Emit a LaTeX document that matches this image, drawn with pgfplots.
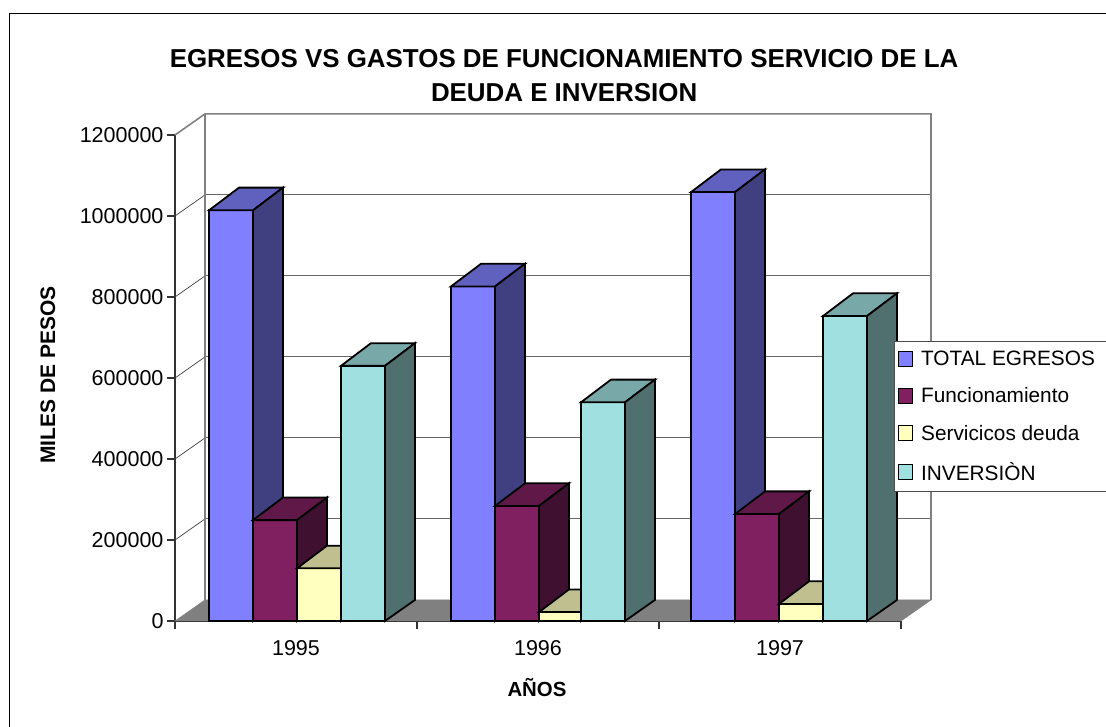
\documentclass[border=0pt]{standalone}
\usepackage{pgfplots}
\pgfplotsset{compat=1.18}
\usepackage{fontspec}
\setmainfont{Liberation Sans}
\definecolor{af}{HTML}{8080FF}\definecolor{at}{HTML}{6060BF}\definecolor{as}{HTML}{404080}
\definecolor{bf}{HTML}{802060}\definecolor{bt}{HTML}{601848}\definecolor{bs}{HTML}{401030}
\definecolor{cf}{HTML}{FFFFC0}\definecolor{ct}{HTML}{BFBF90}\definecolor{cs}{HTML}{808060}
\definecolor{df}{HTML}{A0E0E0}\definecolor{dt}{HTML}{78A8A8}\definecolor{ds}{HTML}{507070}
\definecolor{wall}{HTML}{808080}
% one 3-D bar: left x, right x, value, colour prefix
\newcommand{\threedbar}[4]{%
  \edef\tmpbar{%
  \noexpand\addplot[forget plot,draw=black,line width=1.8pt,fill=#4f] coordinates {(#1,0) (#2,0) (#2,#3) (#1,#3)} --cycle;
  \noexpand\addplot[forget plot,draw=black,line width=1.8pt,fill=#4t] coordinates {(#1,#3) (#2,#3) (\the\numexpr#2+30\relax,\the\numexpr#3+56000\relax) (\the\numexpr#1+30\relax,\the\numexpr#3+56000\relax)} --cycle;
  \noexpand\addplot[forget plot,draw=black,line width=1.8pt,fill=#4s] coordinates {(#2,0) (\the\numexpr#2+30\relax,52000) (\the\numexpr#2+30\relax,\the\numexpr#3+56000\relax) (#2,#3)} --cycle;
  }\tmpbar}
\newcommand{\gridrow}[1]{%
  \edef\tmpgrid{%
  \noexpand\addplot[forget plot,draw=black!75,line width=0.7pt] coordinates {(175,#1) (205,\the\numexpr#1+52000\relax)};
  \noexpand\addplot[forget plot,draw=black!60,line width=1pt] coordinates {(205,\the\numexpr#1+52000\relax) (931,\the\numexpr#1+52000\relax)};
  }\tmpgrid}
\begin{document}
\begin{tikzpicture}[x=1pt,y=1pt]
\useasboundingbox (0,0) rectangle (1106,727);
\draw[black,line width=1.5pt] (9.5,-2) -- (9.5,713.5) -- (1110,713.5);
\begin{axis}[
  at={(175pt,106pt)},anchor=origin,
  scale only axis,width=726pt,height=486pt,
  xmin=175,xmax=901,ymin=0,ymax=1200000,clip=false,
  axis lines=left,axis line style={-,black!80,line width=1.2pt},
  tick align=outside,major tick length=8pt,tick style={black!80,line width=1.2pt},
  xtick={175,417,659,901},xticklabels={},
  extra x ticks={296,538,780},extra x tick labels={1995,1996,1997},
  extra x tick style={major tick length=0pt,tick style={draw=none}},
  ytick={0,200000,400000,600000,800000,1000000,1200000},
  yticklabels={0,200000,400000,600000,800000,1000000,1200000},
  scaled y ticks=false,
  tick label style={font=\fontsize{21.5}{24}\selectfont,black},
  xticklabel style={yshift=-16pt},
  title={EGRESOS VS GASTOS DE FUNCIONAMIENTO SERVICIO DE LA\\DEUDA E INVERSION},
  title style={at={(0.536,1.109)},anchor=center,align=center,font=\fontsize{25.9}{34}\selectfont\bfseries},
  xlabel={AÑOS},
  xlabel style={at={(0.4986,-0.136)},anchor=center,font=\fontsize{20.4}{24}\selectfont\bfseries},
  legend image code/.code={\draw[#1] (3pt,-7pt) rectangle (17pt,8pt);\path (23pt,0pt);},
  legend cell align=left,
  legend style={at={(axis cs:893.5,691000)},anchor=north west,draw=black!70,line width=0.9pt,fill=white,
    font=\fontsize{20.8}{24}\selectfont,row sep=16.8pt,inner xsep=4pt,inner ysep=7.5pt},
]
% walls
\gridrow{200000}\gridrow{400000}\gridrow{600000}\gridrow{800000}\gridrow{1000000}
\addplot[forget plot,draw=wall,line width=1.6pt] coordinates {(175,1200000) (205,1252000) (931,1252000) (931,52000)};
\addplot[forget plot,draw=wall,line width=1.6pt] coordinates {(205,1252000) (205,52000)};
\addplot[forget plot,draw=wall,fill=wall,line width=0.5pt] coordinates {(175,0) (205,52000) (931,52000) (901,0)} --cycle;
% 1995
\threedbar{209}{253}{1014000}{a}
\threedbar{253}{297}{249000}{b}
\threedbar{297}{341}{130000}{c}
\threedbar{341}{385}{630000}{d}
% 1996
\threedbar{451}{495}{826000}{a}
\threedbar{495}{539}{284000}{b}
\threedbar{539}{581}{22000}{c}
\threedbar{581}{625}{540000}{d}
% 1997
\threedbar{691}{735}{1059000}{a}
\threedbar{735}{779}{264000}{b}
\threedbar{779}{823}{42000}{c}
\threedbar{823}{867}{753000}{d}
\addlegendimage{fill=af,draw=black,line width=1.2pt}
\addlegendentry{\makebox[190pt][l]{TOTAL EGRESOS}}
\addlegendimage{fill=bf,draw=black,line width=1.2pt}
\addlegendentry{Funcionamiento}
\addlegendimage{fill=cf,draw=black,line width=1.2pt}
\addlegendentry{Servicicos deuda}
\addlegendimage{fill=df,draw=black,line width=1.2pt}
\addlegendentry{INVERSIÒN}
\end{axis}
\begin{scope}
\clip (20,263) rectangle (80,440);
\node[rotate=90,anchor=base west,inner sep=0pt,font=\fontsize{21}{24}\selectfont\bfseries] at (55,263) {MILES DE PESOS};
\end{scope}
\end{tikzpicture}
\end{document}
